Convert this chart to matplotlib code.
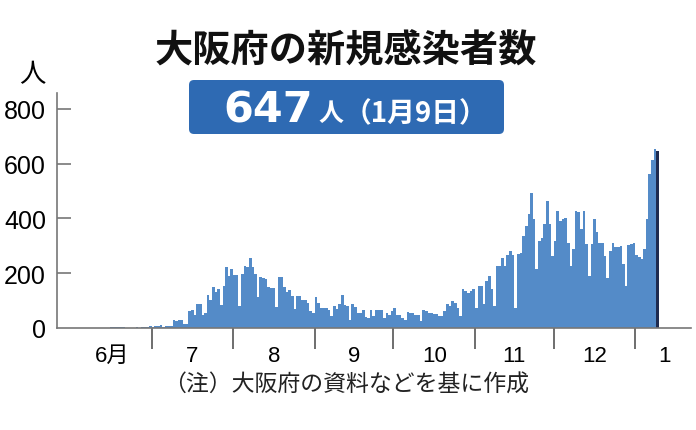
import numpy as np
import matplotlib
matplotlib.use("Agg")
import matplotlib.pyplot as plt
from matplotlib.patches import FancyBboxPatch

# daily new cases in Osaka (Jun 1 2020 - Jan 9 2021)
jun = [0, 1, 0, 1, 0, 1, 0, 0, 1, 0, 0, 0, 1, 0, 2, 3, 4, 3, 4, 2, 1,
       0, 1, 0, 2, 1, 5, 4, 3, 6]
jul = [4, 6, 7, 12, 5, 6, 9, 9, 28, 24, 29, 30, 16, 16, 61, 64, 46, 86, 89,
       49, 53, 121, 104, 149, 132, 141, 84, 155, 221, 190, 216]
aug = [195, 194, 82, 198, 225, 222, 256, 223, 196, 115, 188, 182, 180, 150,
       147, 147, 78, 187, 186, 150, 130, 140, 116, 70, 116, 118, 104, 104,
       92, 61, 55]
sep = [114, 92, 73, 73, 73, 64, 45, 80, 70, 88, 119, 83, 80, 31, 89, 77, 55,
       55, 64, 40, 37, 64, 43, 64, 64, 64, 37, 55, 49, 61]
oct_ = [73, 49, 49, 35, 31, 58, 53, 55, 49, 47, 24, 67, 61, 53, 53, 51, 51,
        45, 43, 61, 86, 80, 98, 92, 73, 43, 141, 135, 128, 135, 141]
nov = [73, 155, 153, 86, 171, 190, 141, 80, 226, 226, 257, 226, 265, 281,
       265, 73, 272, 275, 337, 373, 416, 492, 398, 214, 318, 330, 379, 465,
       379, 263]
dec = [318, 428, 392, 398, 400, 312, 226, 288, 428, 422, 361, 428, 306, 190,
       306, 398, 349, 312, 312, 263, 184, 282, 312, 294, 297, 300, 233, 153,
       302, 306, 312]
jan = [266, 261, 253, 290, 398, 563, 612, 655, 647]

months = [jun, jul, aug, sep, oct_, nov, dec, jan]
month_labels = ["6月", "7", "8", "9", "10", "11", "12", "1"]

cases = np.array(sum(months, []))
days = np.arange(len(cases))
lengths = [len(m) for m in months]
starts = np.concatenate([[0], np.cumsum(lengths)[:-1]])

plt.rcParams['font.family'] = ['Liberation Sans', 'Noto Sans CJK JP', 'DejaVu Sans']

fig = plt.figure(figsize=(6.96, 4.31), dpi=100)
ax = fig.add_axes([57 / 696, 102 / 431, 634 / 696, 235.5 / 431])

colors = ['#548bc8'] * len(cases)
colors[-1] = '#1f2b4f'
ax.bar(days + 0.5, cases, width=1.0, color=colors, linewidth=0)

ax.set_xlim(-6, 235.2)
ax.set_ylim(0, 860)

for s in ['top', 'right']:
    ax.spines[s].set_visible(False)
ax.spines['left'].set_color('#777777')
ax.spines['bottom'].set_color('#777777')
ax.spines['left'].set_linewidth(1.2)
ax.spines['bottom'].set_linewidth(1.2)

ax.set_yticks([0, 200, 400, 600, 800])
ax.tick_params(axis='y', direction='in', length=10, width=1.2, color='#777777',
               labelsize=18, pad=8)
ax.get_yticklines()[0].set_visible(False)

# month boundaries as ticks, labels at the month centres
ax.set_xticks(starts[1:])
ax.set_xticklabels([])
ax.tick_params(axis='x', which='major', direction='out', length=15,
               width=1.2, color='#555555')
centers = list(starts[:-1] + np.array(lengths[:-1]) / 2) + [225]
ax.set_xticks(centers, minor=True)
ax.set_xticklabels(month_labels, minor=True)
ax.tick_params(axis='x', which='minor', length=0, labelsize=16, pad=12)

# unit label
fig.text(32 / 696, 1 - 75 / 431, "人", fontsize=19, ha='center', va='center',
         family=['Noto Sans CJK JP'])

# title
fig.text(346 / 696, 1 - 51 / 431, "大阪府の新規感染者数", fontsize=27.5,
         ha='center', va='center', family=['Noto Sans CJK JP'], weight='bold',
         color='#111111')

# blue box with the latest figure
box = FancyBboxPatch((1.89, (431 - 135) / 100), 3.15, 0.54,
                     boxstyle="round,pad=0,rounding_size=0.05",
                     transform=fig.dpi_scale_trans, facecolor='#2e6ab3',
                     edgecolor='none')
fig.patches.append(box)
fig.text(3.13, (431 - 123) / 100, "647", transform=fig.dpi_scale_trans,
         fontsize=31, ha='right', va='baseline', color='white',
         weight='bold', family=['DejaVu Sans'])
fig.text(3.43, (431 - 114) / 100, "人", transform=fig.dpi_scale_trans,
         fontsize=18, ha='right', va='center', color='white',
         weight='bold', family=['Noto Sans CJK JP'])
fig.text(3.44, (431 - 114) / 100, "（1月9日）", transform=fig.dpi_scale_trans,
         fontsize=20, ha='left', va='center', color='white',
         weight='bold', family=['Noto Sans CJK JP'])

# note
fig.text(163 / 696, 1 - 385 / 431, "（注）大阪府の資料などを基に作成", fontsize=16.5,
         ha='left', va='center', family=['Noto Sans CJK JP'], color='#222222')

fig.savefig("out.png", dpi=100)
